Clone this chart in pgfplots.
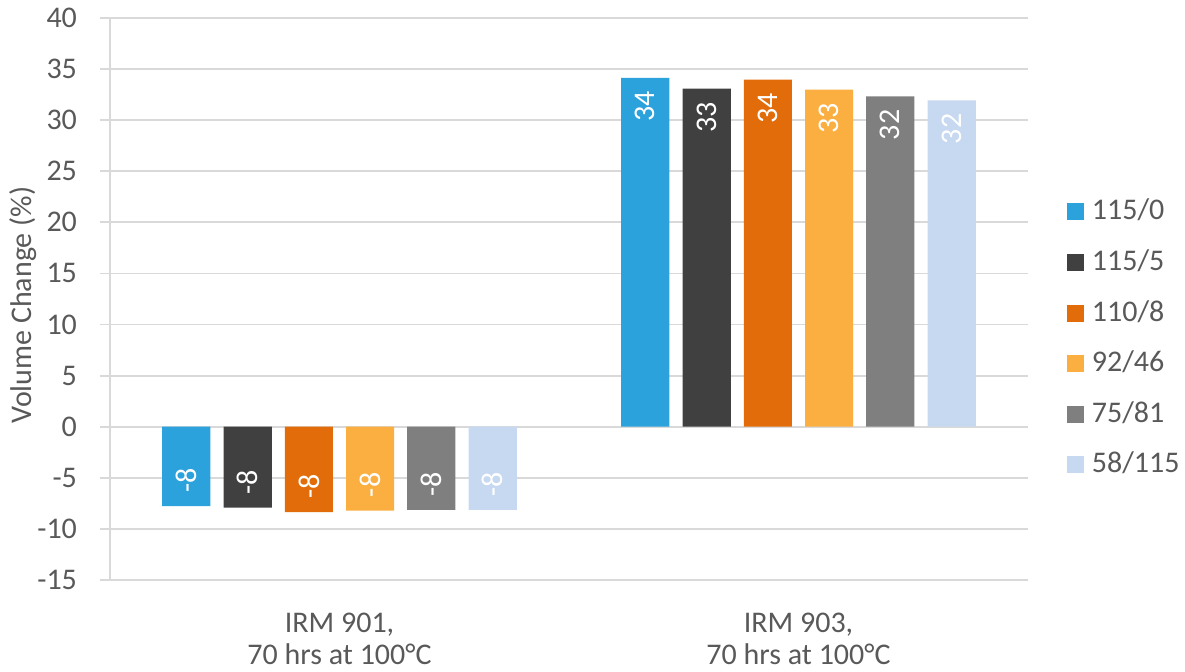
\documentclass[border=0pt]{standalone}
\usepackage{fontspec}
\setmainfont{Carlito}
\usepackage{pgfplots}
\usepackage{pgfplotstable}
\pgfplotsset{compat=1.18}

\definecolor{cA}{HTML}{2CA2DC}
\definecolor{cB}{HTML}{404040}
\definecolor{cC}{HTML}{E36C0A}
\definecolor{cD}{HTML}{FAAF40}
\definecolor{cE}{HTML}{7F7F7F}
\definecolor{cF}{HTML}{C6D9F1}
\definecolor{gridgray}{HTML}{D9D9D9}
\definecolor{labelgray}{HTML}{595959}

% volume change (%) per oil, one column per blend
\pgfplotstableread{
x s1 s2 s3 s4 s5 s6
0 -7.76 -7.92 -8.35 -8.20 -8.13 -8.13
1 34.15 33.08 33.96 32.98 32.33 31.94
}\volume

\newcommand{\chartfont}{\fontsize{15}{16}\selectfont}

\pgfplotsset{
  barstyle/.style={
    fill=#1, draw=none,
    legend image code/.code={\fill[#1] (0pt,-4.25pt) rectangle (8.5pt,4.25pt);},
  },
}

\begin{document}
\begin{tikzpicture}
\useasboundingbox (0,0) rectangle (592.5pt,336pt);
\begin{axis}[
  at={(55pt,46pt)}, anchor=south west,
  scale only axis, width=459pt, height=281pt,
  ybar, bar width=0.105,
  xmin=-0.5, xmax=1.5, ymin=-15, ymax=40,
  ytick distance=5,
  xtick={0,1},
  xticklabels={{IRM 901,\\70 hrs at 100°C},{IRM 903,\\70 hrs at 100°C}},
  xticklabel style={align=center, yshift=-8pt},
  xtick style={draw=none},
  ytick style={draw=gridgray, line width=0.9pt},
  major tick length=5pt,
  tick align=outside,
  tick pos=left,
  yticklabel style={xshift=-8pt},
  axis lines*=left,
  axis line style={draw=gridgray, line width=0.9pt, -},
  ymajorgrids,
  grid style={draw=gridgray, line width=0.9pt},
  tick label style={font=\chartfont, text=labelgray},
  /pgf/number format/assume math mode=true,
  ylabel={Volume Change (\%)},
  ylabel style={font=\chartfont, text=labelgray, at={(axis description cs:-0.095,0.489)}, anchor=center, rotate=0},
  % value labels: rotated, inside the end of each bar
  nodes near coords={\pgfmathprintnumber[fixed, precision=0]{\pgfplotspointmeta}},
  visualization depends on={y \as \rawy},
  every node near coord/.append style={rotate=90,
    /utils/exec={\pgfmathparse{\rawy<0}\ifdim\pgfmathresult pt>0.5pt \def\myanchor{west}\else\def\myanchor{east}\fi},
    anchor=\myanchor, inner xsep=6.5pt, inner ysep=0pt, text=white, font=\chartfont},
  legend style={at={(axis description cs:1.042,0.43)}, anchor=west,
    draw=none, fill=none, inner sep=0pt, row sep=13.3pt,
    font=\chartfont, text=labelgray,
    nodes={inner sep=0pt, text height=10pt, text depth=2pt},
    /tikz/every odd column/.append style={column sep=4pt}},
  legend cell align=left,
]
\addplot[barstyle=cA, bar shift=-0.334] table[x=x, y=s1] {\volume};
\addplot[barstyle=cB, bar shift=-0.2]   table[x=x, y=s2] {\volume};
\addplot[barstyle=cC, bar shift=-0.0667] table[x=x, y=s3] {\volume};
\addplot[barstyle=cD, bar shift=0.0667]  table[x=x, y=s4] {\volume};
\addplot[barstyle=cE, bar shift=0.2]     table[x=x, y=s5] {\volume};
\addplot[barstyle=cF, bar shift=0.334]   table[x=x, y=s6] {\volume};
\legend{115/0,115/5,110/8,92/46,75/81,58/115}
\end{axis}
\end{tikzpicture}
\end{document}
